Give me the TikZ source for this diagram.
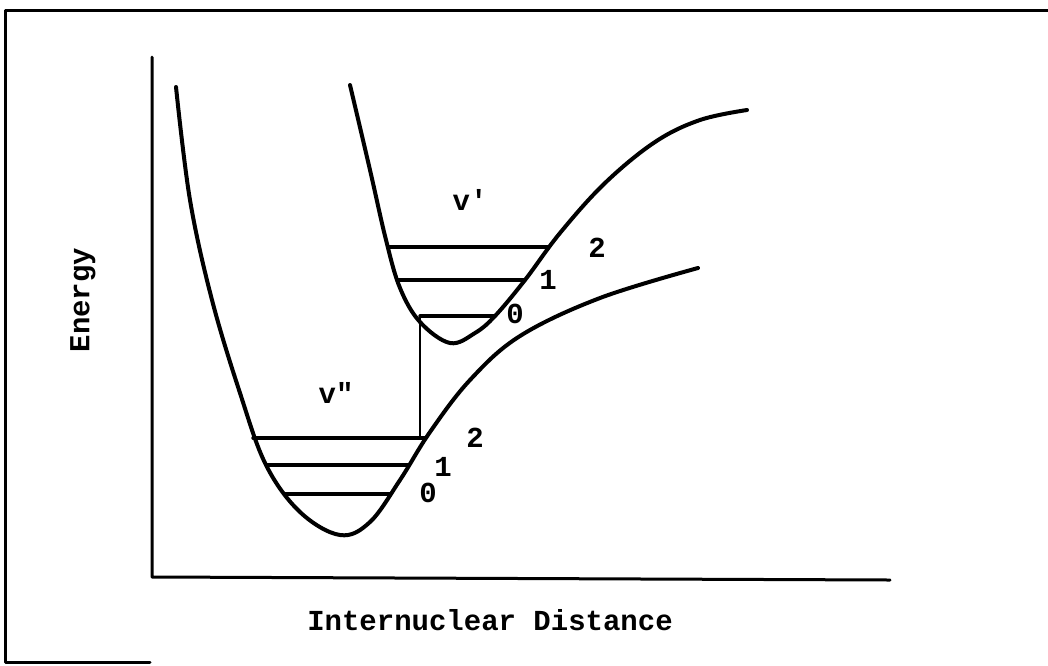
\documentclass[tikz,border=0pt]{standalone}
\usepackage{fontspec}
\setmainfont{Liberation Mono}[Ligatures=TeXOff]
\usepackage{tikz}

\begin{document}
\begin{tikzpicture}[x=1pt, y=-1pt, line join=round, line cap=round]
  % Style definitions
  \tikzstyle{curve} = [line width=4pt]
  \tikzstyle{level} = [line width=3.4pt]
  \tikzstyle{axis} = [line width=3pt]
  \tikzstyle{lbl} = [font=\fontsize{29}{34}\selectfont\bfseries, inner sep=0pt]

  \useasboundingbox (0,0) rectangle (1048,665);

  % Frame
  \draw[line width=3pt] (150,662) -- (5,662) -- (5,10) -- (1048,10);

  % Axes
  \coordinate (origin) at (152,577);
  \coordinate (ytop) at (152,57);
  \coordinate (xend) at (890,580);
  \draw[axis] (ytop) -- (origin) -- (xend);
  \node (xlabel) [lbl] at (490,620) {Internuclear Distance};
  \node (ylabel) [lbl, rotate=90] at (83,300) {Energy};

  % Potential curves
  \draw[curve] plot[smooth, tension=0.6] coordinates {(176,87) (190,200) (212,300) (240,393) (266,465) (300,512) (340,535) (370,522) (400,480) (430,432) (470,380) (520,336) (600,298) (698,268)};
  \draw[curve] plot[smooth, tension=0.6] coordinates {(350,85) (370,170) (386,240) (400,288) (420,322) (450,343) (475,333) (495,316) (525,280) (560,233) (605,183) (655,142) (700,120) (747,110)};

  % Vibrational levels, ground state
  \coordinate (g0l) at (285,494);  \coordinate (g0r) at (391,494);
  \coordinate (g1l) at (266,465);  \coordinate (g1r) at (409,465);
  \coordinate (g2l) at (253,438);  \coordinate (g2r) at (425,438);
  \draw[level] (g0l) -- (g0r);
  \draw[level] (g1l) -- (g1r);
  \draw[level] (g2l) -- (g2r);

  % Vibrational levels, excited state
  \coordinate (e0l) at (420,316);  \coordinate (e0r) at (495,316);
  \coordinate (e1l) at (398,280);  \coordinate (e1r) at (525,280);
  \coordinate (e2l) at (388,247);  \coordinate (e2r) at (549,247);
  \draw[level] (e0l) -- (e0r);
  \draw[level] (e1l) -- (e1r);
  \draw[level] (e2l) -- (e2r);

  % Transition
  \draw[line width=2.6pt] (e0l) -- (e0l |- g2r);

  % Labels
  \node (vup) [lbl] at (470,200) {v'};
  \node (vlow) [lbl] at (336,393) {v"};
  \node (n0up) [lbl] at (515,314) {0};
  \node (n1up) [lbl] at (548,280) {1};
  \node (n2up) [lbl] at (597,248) {2};
  \node (n0low) [lbl] at (428,493) {0};
  \node (n1low) [lbl] at (443,467) {1};
  \node (n2low) [lbl] at (475,438) {2};
\end{tikzpicture}
\end{document}
